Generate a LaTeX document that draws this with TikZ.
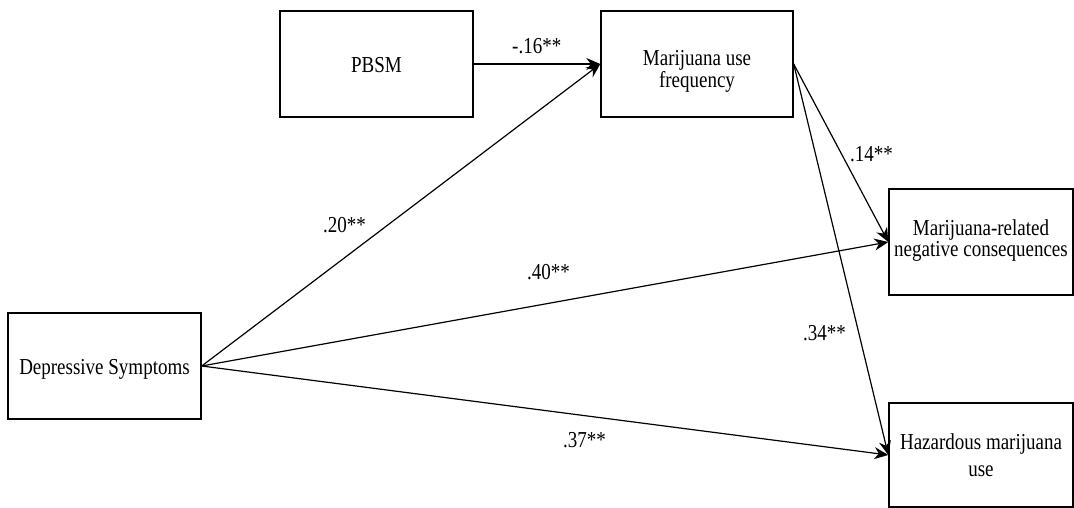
\documentclass[tikz,border=0pt]{standalone}
\usepackage{fontspec}
\setmainfont{Liberation Serif}
\usetikzlibrary{arrows.meta}
\newcommand\vstr[1]{\scalebox{1}[1.2]{#1}}
\begin{document}
\begin{tikzpicture}[x=1pt,y=-1pt,
  box/.style={draw, line width=1.4pt, rectangle, inner sep=0pt},
  txt/.style={font=\fontsize{19}{22}\selectfont, inner sep=0pt, anchor=base},
  lbl/.style={font=\fontsize{19}{22}\selectfont, inner sep=0pt, anchor=base west},
  conn/.style={line width=1.2pt, -{Stealth[length=14pt,width=12pt]}}]
\useasboundingbox (0,0) rectangle (1074,508);
\fill[white] (0,0) rectangle (1074,508);
% boxes
\node[box, minimum width=193pt, minimum height=106pt] (pbsm) at (376.5,64) {};
\node[box, minimum width=192pt, minimum height=106pt] (muf) at (697,64) {};
\node[box, minimum width=184pt, minimum height=106pt] (mrnc) at (981,242) {};
\node[box, minimum width=184pt, minimum height=104pt] (hmu) at (981,455) {};
\node[box, minimum width=193pt, minimum height=106pt] (ds) at (104.5,366) {};
% box texts
\node[txt] (pbsmt) at (376.5,73) {\vstr{PBSM}};
\node[txt] (muft1) at (697,66) {\vstr{Marijuana use}};
\node[txt] (muft2) at (697,88) {\vstr{frequency}};
\node[txt] (mrnct1) at (981,235) {\vstr{Marijuana-related}};
\node[txt] (mrnct2) at (981,256) {\vstr{negative consequences}};
\node[txt] (hmut1) at (981,449) {\vstr{Hazardous marijuana}};
\node[txt] (hmut2) at (981,476) {\vstr{use}};
\node[txt] (dst) at (104.5,374) {\vstr{Depressive Symptoms}};
% connectors
\draw[conn] (pbsm.east) -- (muf.west);
\draw[conn] (ds.east) -- (muf.west);
\draw[conn] (ds.east) -- (mrnc.west);
\draw[conn] (muf.east) -- (mrnc.west);
\draw[conn] (ds.east) -- (hmu.west);
\draw[conn] (muf.east) -- (hmu.west);
% coefficients
\node[lbl] (l16) at (512,54) {\vstr{-.16**}};
\node[lbl] (l20) at (323,233) {\vstr{.20**}};
\node[lbl] (l40) at (527,279) {\vstr{.40**}};
\node[lbl] (l14) at (850,162) {\vstr{.14**}};
\node[lbl] (l34) at (803,340) {\vstr{.34**}};
\node[lbl] (l37) at (563,447) {\vstr{.37**}};
\end{tikzpicture}
\end{document}
